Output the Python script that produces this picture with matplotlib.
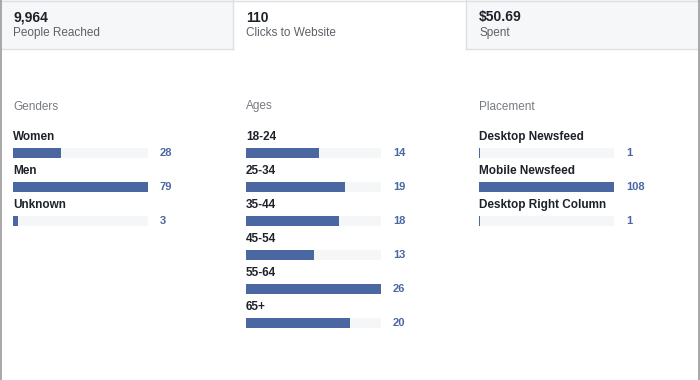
import matplotlib.pyplot as plt
from matplotlib.patches import Rectangle
from matplotlib.lines import Line2D

plt.rcParams["font.family"] = ["Liberation Sans", "DejaVu Sans"]

# Dados
tab_values = ["9,964", "110", "$50.69"]
tab_names = ["People Reached", "Clicks to Website", "Spent"]

gender_labels = ["Women", "Men", "Unknown"]
gender_values = [28, 79, 3]

age_labels = ["18-24", "25-34", "35-44", "45-54", "55-64", "65+"]
age_values = [14, 19, 18, 13, 26, 20]

placement_labels = ["Desktop Newsfeed", "Mobile Newsfeed", "Desktop Right Column"]
placement_values = [1, 108, 1]

groups = [
    ("Genders", gender_labels, gender_values, 13),
    ("Ages", age_labels, age_values, 246),
    ("Placement", placement_labels, placement_values, 479),
]

W, H = 700, 380
BAR_COLOR = "#4b67a1"
TRACK_COLOR = "#f5f6f7"
BORDER = "#dddfe2"

fig = plt.figure(figsize=(7, 3.8), dpi=100)

# Fundo com coordenadas em pixels (abas)
bg = fig.add_axes([0, 0, 1, 1])
bg.set_xlim(0, W)
bg.set_ylim(H, 0)
bg.axis("off")

tab_x = [0, 233, 466]
tab_w = 233
for i, (val, name) in enumerate(zip(tab_values, tab_names)):
    x0 = tab_x[i]
    if i != 1:
        bg.add_patch(Rectangle((x0, 0), tab_w, 49, facecolor="#f6f7f9",
                               edgecolor="none"))
        bg.plot([x0, x0 + tab_w], [49, 49], color=BORDER, lw=1)
    bg.text(x0 + 13, 17.5, val, fontsize=10, fontweight="bold",
            color="#1d2129", va="center", ha="left")
    bg.text(x0 + 13, 33, name, fontsize=8.5, color="#5d6169",
            va="center", ha="left")
# bordas das abas
bg.plot([233, 233], [0, 49], color=BORDER, lw=1)
bg.plot([466, 466], [0, 49], color=BORDER, lw=1)
bg.plot([0, W], [0.5, 0.5], color=BORDER, lw=1)
fig.add_artist(Line2D([0.001, 0.001], [0, 1], color="#9a9a9a", lw=1.2))
fig.add_artist(Line2D([0.998, 0.998], [0, 1], color="#9a9a9a", lw=1.2))

# Barras de cada grupo
ROW = 34
TOP = 136
BAR_W = 135
for title, labels, values, x0 in groups:
    n = len(values)
    ax = fig.add_axes([x0 / W, 1 - (TOP + ROW * n) / H, BAR_W / W, ROW * n / H])
    vmax = max(values)
    ys = [i + 0.5 for i in range(n)]
    ax.barh(ys, [vmax] * n, height=10 / ROW, color=TRACK_COLOR, left=0)
    ax.barh(ys, values, height=10 / ROW, color=BAR_COLOR, left=0)
    ax.set_xlim(0, vmax)
    ax.set_ylim(n, 0)
    ax.axis("off")
    ax.text(0, (106.5 - TOP) / ROW, title, fontsize=8.5, color="#767a82",
            ha="left", va="center", clip_on=False)
    for y, lab, v in zip(ys, labels, values):
        ax.text(0, y - 0.47, lab, fontsize=8.5, fontweight="bold",
                color="#1d2129", ha="left", va="center", clip_on=False)
        ax.annotate(str(v), xy=(1, y), xycoords=("axes fraction", "data"),
                    xytext=(12, 0), textcoords="offset pixels",
                    fontsize=8, fontweight="bold", color=BAR_COLOR,
                    ha="left", va="center", annotation_clip=False)

fig.savefig("out.png", dpi=100)
